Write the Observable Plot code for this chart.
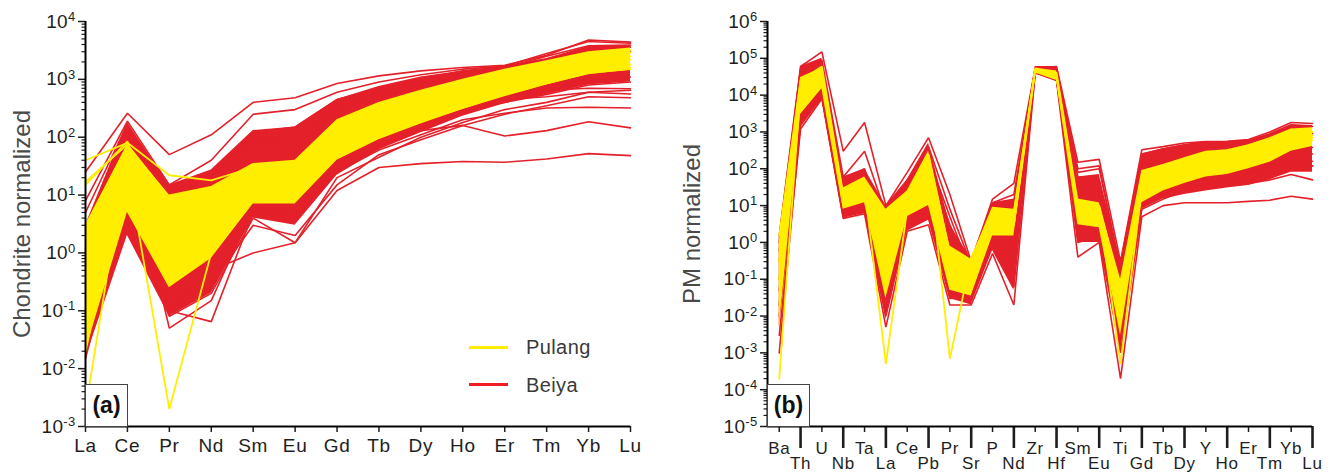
<!DOCTYPE html>
<html><head><meta charset="utf-8">
<script src="https://cdn.jsdelivr.net/npm/d3@7"></script>
<script src="https://cdn.jsdelivr.net/npm/@observablehq/plot@0.6"></script>
<style>
html,body{margin:0;padding:0;background:#fff;}
#wrap{position:relative;width:1333px;height:473px;display:flex;font-family:"Liberation Sans",Arial,sans-serif;overflow:hidden;}
#wrap svg{display:block;}
#wrap svg g[aria-label="x-axis tick label"] text{letter-spacing:0.7px;}
#wrap svg g[aria-label="y-axis tick label"] text{letter-spacing:0.3px;}
.tag{position:absolute;box-sizing:border-box;width:43px;height:43px;border:1px solid #444;background:#fff;font-weight:bold;font-size:23px;color:#111;display:flex;align-items:center;justify-content:center;}
.lg-line{position:absolute;width:39px;height:3px;}
.lg-text{position:absolute;font-size:20px;line-height:20px;letter-spacing:0.4px;color:#3a3a3a;}
</style></head>
<body>
<div id="wrap">
  <div id="left"></div>
  <div id="right"></div>
  <div class="tag" style="left:85px;top:384px;">(a)</div>
  <div class="tag" style="left:767px;top:384px;">(b)</div>
  <div class="lg-line" style="left:469px;top:346px;background:#ffee00;"></div>
  <div class="lg-text" style="left:526px;top:337px;">Pulang</div>
  <div class="lg-line" style="left:469px;top:383px;background:#f01c22;"></div>
  <div class="lg-text" style="left:526px;top:375px;">Beiya</div>
</div>
<script>
// ---------- Panel (a): chondrite-normalized REE ----------
const reeElements = ["La","Ce","Pr","Nd","Sm","Eu","Gd","Tb","Dy","Ho","Er","Tm","Yb","Lu"];
const reeTicks = [1e-3, 1e-2, 1e-1, 1, 10, 100, 1e3, 1e4];
const reeTickLabels = ["10^-3","10^-2","10^-1","10^0","10^1","10^2","10^3","10^4"];

const reeRedLow   = [0.015, 2, 0.08, 0.2, 4, 3, 22, 60, 120, 230, 380, 550, 800, 900];
const reeRedHigh  = [3, 180, 15, 27, 130, 150, 450, 750, 1100, 1400, 1700, 2300, 3700, 3800];
const reeYellowLow  = [0.02, 5, 0.25, 0.8, 7, 7, 40, 90, 170, 300, 500, 800, 1200, 1450];
const reeYellowHigh = [3, 75, 10, 14, 35, 40, 200, 400, 650, 1000, 1500, 2100, 3000, 3500];

const reeRedLines = [
  [25, 260, 50, 110, 400, 480, 850, 1150, 1400, 1600, 1750, 2600, 4800, 4400],
  [8, 190, 15, 40, 250, 300, 600, 900, 1200, 1500, 1700, 2800, 4500, 4200],
  [2, 150, 10, 20, 120, 150, 450, 700, 1000, 1400, 1600, 2500, 3800, 3900],
  [0.5, 120, 5, 8, 100, 60, 300, 500, 800, 1100, 1500, 2200, 3500, 3600],
  [0.02, 20, 0.1, 0.5, 1, 1.5, 12, 30, 35, 38, 37, 42, 52, 48],
  [0.015, 10, 0.1, 0.065, 5, 4, 25, 60, 110, 200, 260, 320, 330, 320],
  [0.1, 60, 0.05, 0.15, 6, 5, 30, 70, 130, 160, 105, 130, 185, 145],
  [1, 80, 1, 3, 15, 12, 80, 150, 250, 350, 450, 500, 600, 560],
  [3, 100, 2, 5, 30, 25, 100, 200, 350, 500, 600, 650, 700, 690],
  [0.3, 40, 0.4, 1, 10, 8, 50, 110, 200, 300, 400, 550, 800, 900],
  [5, 170, 8, 15, 80, 100, 350, 600, 900, 1200, 1400, 2000, 3000, 3000],
  [0.05, 15, 0.15, 0.3, 3, 2, 15, 50, 90, 160, 250, 350, 500, 480],
  [1.2, 50, 0.8, 1.5, 20, 15, 60, 120, 220, 350, 500, 700, 1000, 1100],
  [0.04, 5, 0.08, 0.2, 4, 1.5, 20, 45, 100, 180, 300, 400, 600, 650]
];
const reeYellowLines = [
  [0.002, 60, 0.5, 2, 15, 15, 80, 200, 350, 600, 900, 1300, 2000, 2200],
  [40, 80, 22, 18, 30, 35, 150, 350, 550, 850, 1300, 1800, 2800, 3200],
  [17, 75, 9, 12, 25, 28, 120, 280, 450, 700, 1100, 1600, 2500, 2900],
  [0.02, 30, 0.002, 1, 12, 10, 60, 150, 250, 400, 700, 1000, 1600, 1800],
  [3, 70, 3, 6, 20, 20, 100, 250, 400, 650, 1000, 1400, 2200, 2500],
  [0.2, 50, 0.3, 1.5, 10, 9, 50, 110, 200, 350, 600, 900, 1400, 1600],
  [15, 85, 0.3, 1, 10, 9, 45, 100, 190, 320, 550, 850, 1300, 1500]
];

// ---------- Panel (b): PM-normalized trace elements ----------
const traceElements = ["Ba","Th","U","Nb","Ta","La","Ce","Pb","Pr","Sr","P","Nd","Zr","Hf","Sm","Eu","Ti","Gd","Tb","Dy","Y","Ho","Er","Tm","Yb","Lu"];
const traceTicks = [1e-5, 1e-4, 1e-3, 1e-2, 1e-1, 1, 10, 100, 1e3, 1e4, 1e5, 1e6];
const traceTickLabels = ["10^-5","10^-4","10^-3","10^-2","10^-1","10^0","10^1","10^2","10^3","10^4","10^5","10^6"];

const traceRedLow  = [0.005, 1500, 8000, 4.5, 6, 0.008, 2, 4, 0.03, 0.02, 0.6, 0.05, 38000, 25000, 1, 1, 0.001, 8, 15, 20, 25, 30, 35, 50, 80, 80];
const traceRedHigh = [1.5, 60000, 100000, 60, 100, 10, 50, 500, 3, 0.35, 12, 15, 60000, 60000, 60, 70, 0.3, 250, 350, 450, 550, 550, 600, 900, 1600, 1500];
const traceYellowLow  = [0.005, 3000, 15000, 8, 12, 0.03, 5, 10, 0.05, 0.035, 1.5, 1.5, 40000, 25000, 3, 2.5, 0.003, 12, 25, 40, 60, 70, 100, 150, 300, 400];
const traceYellowHigh = [1, 30000, 55000, 30, 60, 8, 25, 300, 0.8, 0.35, 9, 8, 55000, 45000, 15, 12, 0.1, 90, 130, 200, 300, 330, 450, 700, 1200, 1300];

const traceRedLines = [
  [1.5, 60000, 150000, 300, 1800, 10, 80, 700, 20, 0.3, 15, 40, 55000, 60000, 150, 180, 0.3, 330, 400, 500, 550, 560, 620, 1000, 1800, 1700],
  [1, 50000, 90000, 60, 300, 6, 50, 400, 8, 0.25, 12, 20, 52000, 55000, 100, 120, 0.15, 250, 350, 450, 520, 540, 580, 850, 1500, 1400],
  [0.6, 20000, 60000, 40, 100, 2, 30, 150, 3, 0.15, 8, 8, 50000, 48000, 60, 50, 0.08, 150, 220, 300, 380, 400, 420, 600, 900, 900],
  [0.05, 3000, 12000, 10, 15, 0.1, 8, 20, 0.3, 0.05, 2, 1, 45000, 30000, 5, 5, 0.01, 20, 30, 45, 55, 60, 80, 110, 160, 120],
  [0.003, 1200, 8000, 4.5, 6, 0.005, 2, 3, 0.02, 0.02, 0.5, 0.02, 40000, 25000, 0.4, 1, 0.0002, 5, 10, 12, 12, 12, 13, 14, 18, 15],
  [0.01, 1500, 9000, 5, 8, 0.01, 3, 5, 0.03, 0.03, 0.8, 0.06, 42000, 28000, 1, 1.5, 0.001, 8, 15, 25, 35, 55, 40, 50, 70, 50],
  [0.1, 5000, 30000, 15, 30, 0.3, 15, 50, 1, 0.08, 3, 3, 47000, 35000, 20, 20, 0.02, 50, 80, 120, 150, 160, 200, 300, 380, 380],
  [0.3, 8000, 40000, 20, 50, 3, 40, 200, 5, 0.15, 6, 10, 50000, 45000, 80, 100, 0.2, 100, 150, 200, 250, 270, 300, 400, 550, 250],
  [0.02, 2000, 10000, 7, 10, 0.05, 5, 10, 0.1, 0.04, 1, 0.5, 44000, 28000, 3, 3, 0.005, 15, 25, 40, 60, 80, 110, 150, 200, 117],
  [0.001, 1800, 9000, 6, 9, 0.02, 4, 8, 0.05, 0.03, 1, 0.3, 43000, 27000, 2, 2, 0.003, 10, 20, 30, 40, 50, 70, 100, 150, 160]
];
const traceYellowLines = [
  [0.0002, 15000, 40000, 12, 25, 0.1, 10, 80, 0.3, 0.1, 4, 3, 48000, 33000, 6, 5, 0.02, 40, 60, 100, 150, 180, 250, 350, 600, 700],
  [0.1, 20000, 50000, 15, 30, 0.0005, 8, 100, 0.2, 0.08, 3, 3, 50000, 35000, 8, 6, 0.01, 50, 80, 120, 180, 200, 280, 400, 700, 800],
  [0.3, 10000, 45000, 10, 20, 0.5, 12, 150, 0.0007, 0.4, 6, 5, 50000, 32000, 10, 8, 0.0005, 30, 50, 80, 130, 150, 200, 300, 500, 600],
  [1.5, 25000, 60000, 20, 40, 2, 15, 250, 0.5, 0.2, 8, 6, 52000, 40000, 12, 10, 0.05, 60, 90, 150, 220, 250, 350, 500, 900, 1000]
];

const RED = "#e4202a", YEL = "#ffee00";

const band = (lo, hi) => lo.map((v, i) => ({x: i, lo: v, hi: hi[i]}));
const lineRows = (lines) => lines.flatMap((vals, k) => vals.map((v, i) => ({x: i, y: v, id: k})));
const minorTicksFor = ([a, b]) => {
  const out = [];
  for (let e = Math.round(Math.log10(a)); e < Math.round(Math.log10(b)); e++)
    for (let m = 2; m <= 9; m++) out.push(m * Math.pow(10, e));
  return out;
};

function supify(svg) {
  svg.querySelectorAll('g[aria-label="y-axis tick label"] text').forEach(t => {
    const s = t.textContent;
    const m = s.match(/^10\^(-?\d+)$/);
    if (!m) return;
    t.textContent = "";
    t.appendChild(document.createTextNode("10"));
    const sp = document.createElementNS("http://www.w3.org/2000/svg", "tspan");
    sp.setAttribute("dy", "-0.5em");
    sp.setAttribute("font-size", "13");
    sp.textContent = m[1];
    t.appendChild(sp);
  });
}

function panel(o) {
  const labelMap = new Map(o.ticks.map((v, i) => [v, o.tickLabels[i]]));
  const svg = Plot.plot({
    width: o.width, height: 473,
    marginTop: 21, marginBottom: 47, marginLeft: o.marginLeft, marginRight: o.marginRight,
    x: {type: "linear", domain: o.xDomain},
    y: {type: "log", domain: o.yDomain},
    style: {fontFamily: "'Liberation Sans', Arial, sans-serif", fontSize: "19px", color: "#1e1e1e", background: "transparent", overflow: "visible"},
    marks: [
      Plot.areaY(band(o.redLow, o.redHigh), {x: "x", y1: "lo", y2: "hi", fill: RED}),
      Plot.lineY(lineRows(o.redLines), {x: "x", y: "y", z: "id", stroke: RED, strokeWidth: 1.6, strokeLinejoin: "miter"}),
      Plot.areaY(band(o.yelLow, o.yelHigh), {x: "x", y1: "lo", y2: "hi", fill: YEL}),
      Plot.lineY(lineRows(o.yelLines), {x: "x", y: "y", z: "id", stroke: YEL, strokeWidth: 1.8, strokeLinejoin: "miter"}),
      Plot.axisY({ticks: minorTicksFor(o.yDomain), tickSize: 3.5, tickFormat: () => "", label: null, strokeWidth: 1.2}),
      Plot.axisY({ticks: o.ticks, tickSize: 7, tickPadding: 3, tickFormat: v => labelMap.get(v), label: null, strokeWidth: 1.5, fontSize: 19}),
      ...o.xAxes,
      Plot.ruleX([o.xDomain[0]], {stroke: "#000", strokeWidth: 2}),
      Plot.ruleY([o.yDomain[0]], {stroke: "#000", strokeWidth: 2}),
      Plot.text([o.title], {frameAnchor: "left", textAnchor: "middle", lineAnchor: "middle", dx: o.titleDx, rotate: -90, fontSize: 24, fill: "#4a4a4a"})
    ]
  });
  supify(svg);
  return svg;
}

const evenIdx = traceElements.map((_, i) => i).filter(i => i % 2 === 0);
const oddIdx = traceElements.map((_, i) => i).filter(i => i % 2 === 1);

document.getElementById("left").appendChild(panel({
  width: 666, marginLeft: 85, marginRight: 36,
  xDomain: [0, reeElements.length - 1], yDomain: [1e-3, 1e4],
  ticks: reeTicks, tickLabels: reeTickLabels,
  redLow: reeRedLow, redHigh: reeRedHigh, yelLow: reeYellowLow, yelHigh: reeYellowHigh,
  redLines: reeRedLines, yelLines: reeYellowLines,
  title: "Chondrite normalized", titleDx: -63,
  xAxes: [
    Plot.axisX({ticks: reeElements.map((_, i) => i), tickSize: 6, tickPadding: 6, tickFormat: i => reeElements[i], label: null, strokeWidth: 1.5, fontSize: 19})
  ]
}));

document.getElementById("right").appendChild(panel({
  width: 667, marginLeft: 101, marginRight: 21,
  xDomain: [-0.55, traceElements.length - 1], yDomain: [1e-5, 1e6],
  ticks: traceTicks, tickLabels: traceTickLabels,
  redLow: traceRedLow, redHigh: traceRedHigh, yelLow: traceYellowLow, yelHigh: traceYellowHigh,
  redLines: traceRedLines, yelLines: traceYellowLines,
  title: "PM normalized", titleDx: -75,
  xAxes: [
    Plot.axisX({ticks: evenIdx, tickSize: 6, tickPadding: 9, tickFormat: i => traceElements[i], label: null, strokeWidth: 1.5, fontSize: 17}),
    Plot.axisX({ticks: oddIdx, tickSize: 22, tickPadding: 8, tickFormat: i => traceElements[i], label: null, strokeWidth: 2.6, fontSize: 17})
  ]
}));
</script>
</body></html>
